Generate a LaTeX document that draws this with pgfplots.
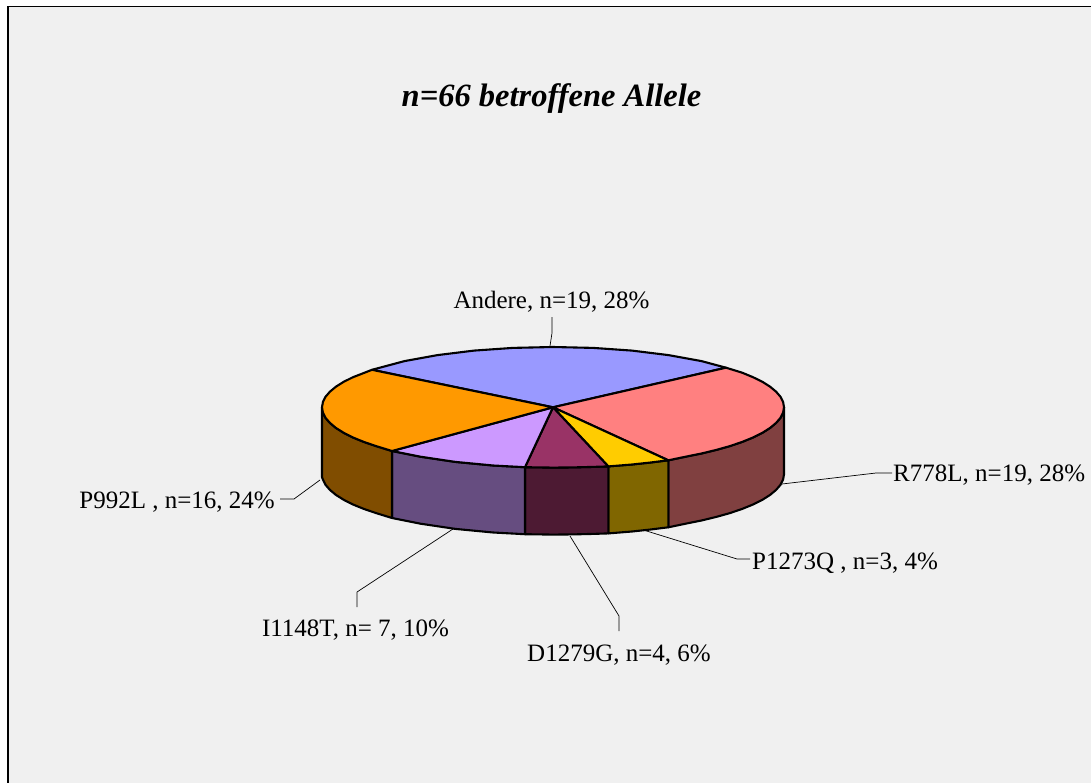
\documentclass[border=0pt]{standalone}
\usepackage{fontspec}
\setmainfont{Liberation Serif}
\usepackage{pgfplots}
\pgfplotsset{compat=1.18}
\definecolor{bg}{HTML}{F0F0F0}
\definecolor{tA}{HTML}{9999FF}\definecolor{tR}{HTML}{FF8080}\definecolor{tP}{HTML}{FFCC00}
\definecolor{tD}{HTML}{993366}\definecolor{tI}{HTML}{CC99FF}\definecolor{tL}{HTML}{FF9900}
\definecolor{sR}{HTML}{804040}\definecolor{sP}{HTML}{806600}\definecolor{sD}{HTML}{4D1A33}
\definecolor{sI}{HTML}{664D80}\definecolor{sL}{HTML}{804D00}
\tikzset{
  lab/.style={font=\fontsize{25}{28}\selectfont, text=black, inner sep=0pt},
  slice/.style={draw=black, line width=2.1pt, line join=round},
  lead/.style={draw=black, line width=0.7pt},
}
\begin{document}
\begin{tikzpicture}
\begin{axis}[
  at={(0,0)}, anchor=south west,
  scale only axis, width=1091pt, height=783pt,
  xmin=0, xmax=1091, ymin=0, ymax=783, y dir=reverse,
  hide axis, clip=true,
]
% page, background and frame
\addplot[fill=white, draw=none] coordinates {(0,0) (1091,0) (1091,783) (0,783)} -- cycle;
\addplot[fill=bg, draw=none] coordinates {(8,6) (1091,6) (1091,783) (8,783)} -- cycle;
\addplot[draw=black, line width=1.2pt, mark=none] coordinates {(8,783) (8,6.5) (1091,6.5)};

% leader lines
\addplot[lead, mark=none] coordinates {(550,346) (552,333) (552,317)};
\addplot[lead, mark=none] coordinates {(782,484) (876,473) (892,473)};
\addplot[lead, mark=none] coordinates {(645,530.5) (737,559) (750,559)};
\addplot[lead, mark=none] coordinates {(570,536) (619,616) (619,631)};
\addplot[lead, mark=none] coordinates {(453,529) (357,592) (357,607)};
\addplot[lead, mark=none] coordinates {(320,480) (294,499) (280,499)};

% side walls
\addplot[slice, fill=sR] coordinates {(784,407.3) (783.1,412.6) (780.5,417.8) (776.1,422.9) (770.1,427.9) (762.4,432.8) (753,437.5) (742.2,441.9) (729.9,446.1) (716.3,449.9) (701.5,453.5) (685.6,456.7) (668.3,460.3)
 (668.3,527.3) (685.6,523.7) (701.5,520.5) (716.3,516.9) (729.9,513.1) (742.2,508.9) (753,504.5) (762.4,499.8) (770.1,494.9) (776.1,489.9) (780.5,484.8) (783.1,479.6) (784,474.3)} -- cycle;
\addplot[slice, fill=sP] coordinates {(668.3,460.3) (650.6,462.5) (632,464.5) (608.3,466.4)
 (608.3,533.4) (632,531.5) (650.6,529.5) (668.3,527.3)} -- cycle;
\addplot[slice, fill=sD] coordinates {(608.3,466.4) (593.1,466.9) (573.1,467.4) (553,467.6) (525,467.2)
 (525,534.2) (553,534.6) (573.1,534.4) (593.1,533.9) (608.3,533.4)} -- cycle;
\addplot[slice, fill=sI] coordinates {(525,467.2) (493.2,465.5) (455.4,461.9) (420.5,456.7) (392,451)
 (392,518) (420.5,523.7) (455.4,528.9) (493.2,532.5) (525,534.2)} -- cycle;
\addplot[slice, fill=sL] coordinates {(392,451) (376.1,446.1) (363.8,441.9) (353,437.5) (343.7,432.8) (335.9,427.9) (329.9,422.9) (325.5,417.8) (322.9,412.6) (322,407.3)
 (322,477) (322.9,479.6) (325.5,484.8) (329.9,489.9) (335.9,494.9) (343.7,499.8) (353,504.5) (363.8,508.9) (376.1,513.1) (392,518)} -- cycle;

% top slices
\addplot[slice, fill=tA] coordinates {(553,407.3) (372,369.8) (404.5,361.1) (437.5,355.1) (474,350.6) (512.9,347.9) (553,347) (593.1,347.9) (632,350.6) (668.5,355.1) (701.5,361.1) (726,367.7)} -- cycle;
\addplot[slice, fill=tR] coordinates {(553,407.3) (726,367.7) (742.2,372.7) (753,377.2) (762.4,381.8) (770.1,386.7) (776.1,391.7) (780.5,396.8) (783.1,402) (784,407.3) (783.1,412.6) (780.5,417.8) (776.1,422.9) (770.1,427.9) (762.4,432.8) (753,437.5) (742.2,441.9) (729.9,446.1) (716.3,449.9) (701.5,453.5) (685.6,456.7) (668.3,460.3)} -- cycle;
\addplot[slice, fill=tP] coordinates {(553,407.3) (668.3,460.3) (650.6,462.5) (632,464.5) (608.3,466.4)} -- cycle;
\addplot[slice, fill=tD] coordinates {(553,407.3) (608.3,466.4) (593.1,466.9) (573.1,467.4) (553,467.6) (525,467.2)} -- cycle;
\addplot[slice, fill=tI] coordinates {(553,407.3) (525,467.2) (493.2,465.5) (455.4,461.9) (420.5,456.7) (392,451)} -- cycle;
\addplot[slice, fill=tL] coordinates {(553,407.3) (392,451) (376.1,446.1) (363.8,441.9) (353,437.5) (343.7,432.8) (335.9,427.9) (329.9,422.9) (325.5,417.8) (322.9,412.6) (322,407.3) (322.9,402) (325.5,396.8) (329.9,391.7) (335.9,386.7) (343.7,381.8) (353,377.2) (372,369.8)} -- cycle;

% texts
\node[font=\fontsize{32.5}{36}\selectfont\bfseries\itshape, inner sep=0pt] at (axis cs:551.5,99) {n=66 betroffene Allele};
\node[lab] at (axis cs:551.5,302) {Andere, n=19, 28\%};
\node[lab, anchor=west] at (axis cs:893,475) {R778L, n=19, 28\%};
\node[lab, anchor=west] at (axis cs:752,563) {P1273Q , n=3, 4\%};
\node[lab] at (axis cs:619,655) {D1279G, n=4, 6\%};
\node[lab] at (axis cs:355.5,630) {I1148T, n= 7, 10\%};
\node[lab, anchor=east] at (axis cs:275,502) {P992L , n=16, 24\%};
\end{axis}
\end{tikzpicture}
\end{document}
